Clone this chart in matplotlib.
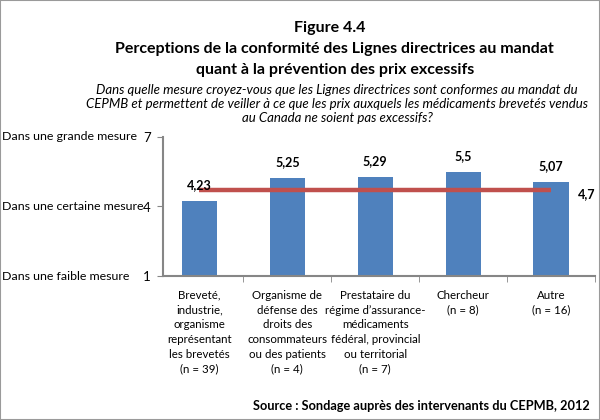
import matplotlib
matplotlib.use("Agg")
import matplotlib.pyplot as plt
import matplotlib.transforms as mtransforms
from matplotlib.patches import Rectangle

plt.rcParams['font.family'] = ['Lato', 'DejaVu Sans']

categories = [
    "Breveté,\nindustrie,\norganisme\nreprésentant\nles brevetés\n(n = 39)",
    "Organisme de\ndéfense des\ndroits des\nconsommateurs\nou des patients\n(n = 4)",
    "Prestataire du\nrégime d\u2019assurance-\nmédicaments\nfédéral, provincial\nou territorial\n(n = 7)",
    "Chercheur\n(n = 8)",
    "Autre\n(n = 16)",
]
values = [4.23, 5.25, 5.29, 5.5, 5.07]
value_labels = ["4,23", "5,25", "5,29", "5,5", "5,07"]
average = 4.7
average_label = "4,7"
yticks = [1, 4, 7]
ytick_names = ["Dans une faible mesure", "Dans une certaine mesure", "Dans une grande mesure"]

bar_color = "#4F81BD"
line_color = "#C0504D"
axis_color = "#868686"

fig = plt.figure(figsize=(6, 4.2), dpi=100)
ax = fig.add_axes([163/600, 1-276/420, (595-163)/600, (276-137)/420])

x = list(range(len(categories)))
ax.bar(x, values, width=0.4, color=bar_color, zorder=2)
ax.plot([x[0], x[-1]], [average, average], color=line_color, lw=3.2, zorder=3, solid_capstyle='butt')

for xi, v, lab in zip(x, values, value_labels):
    ax.annotate(lab, (xi, v), xytext=(0, 7), textcoords='offset points',
                ha='center', va='bottom', fontsize=9, fontweight='bold')
ax.annotate(average_label, (x[-1], average), xytext=(19, -3), textcoords='offset points',
            ha='left', va='center', fontsize=9, fontweight='bold')

ax.set_ylim(1, 7)
ax.set_xlim(-0.415, 4.5)
ax.set_yticks(yticks)
ax.set_yticklabels([str(t) for t in yticks], fontsize=9.5)
ax.tick_params(axis='y', length=4, color=axis_color, pad=5)

ax.set_xticks(x)
ax.set_xticklabels(categories, fontsize=8.3, linespacing=1.42, va='top')
ax.tick_params(axis='x', which='major', length=0, pad=10)
ax.set_xticks([i + 0.5 for i in x], minor=True)
ax.tick_params(axis='x', which='minor', length=4, color=axis_color)

for s in ['top', 'right']:
    ax.spines[s].set_visible(False)
for s in ['left', 'bottom']:
    ax.spines[s].set_color(axis_color)
    ax.spines[s].set_linewidth(1.5)

trans = mtransforms.blended_transform_factory(fig.transFigure, ax.transData)
for t, name in zip(yticks, ytick_names):
    ax.text(2/600, t, name, transform=trans, ha='left', va='center', fontsize=8.9)

fig.text(330/600, 1-28/420, "Figure 4.4", ha='center', va='center', fontsize=11.5, fontweight='bold')
fig.text(334/600, 1-49/420, "Perceptions de la conformité des Lignes directrices au mandat",
         ha='center', va='center', fontsize=11.5, fontweight='bold')
fig.text(335/600, 1-70/420, "quant à la prévention des prix excessifs",
         ha='center', va='center', fontsize=11.5, fontweight='bold')
fig.text(337/600, 1-104/420,
         "Dans quelle mesure croyez-vous que les Lignes directrices sont conformes au mandat du\n"
         "CEPMB et permettent de veiller à ce que les prix auxquels les médicaments brevetés vendus\n"
         "au Canada ne soient pas excessifs?",
         ha='center', va='center', fontsize=9.5, style='italic', linespacing=1.2)
fig.text(590/600, 1-406/420, "Source : Sondage auprès des intervenants du CEPMB, 2012",
         ha='right', va='center', fontsize=9.2, fontweight='bold')

fig.patches.append(Rectangle((0, 0), 1, 1, transform=fig.transFigure, fill=False,
                             edgecolor='#9A9A9A', lw=1.5))

fig.savefig("out.png", dpi=100)
